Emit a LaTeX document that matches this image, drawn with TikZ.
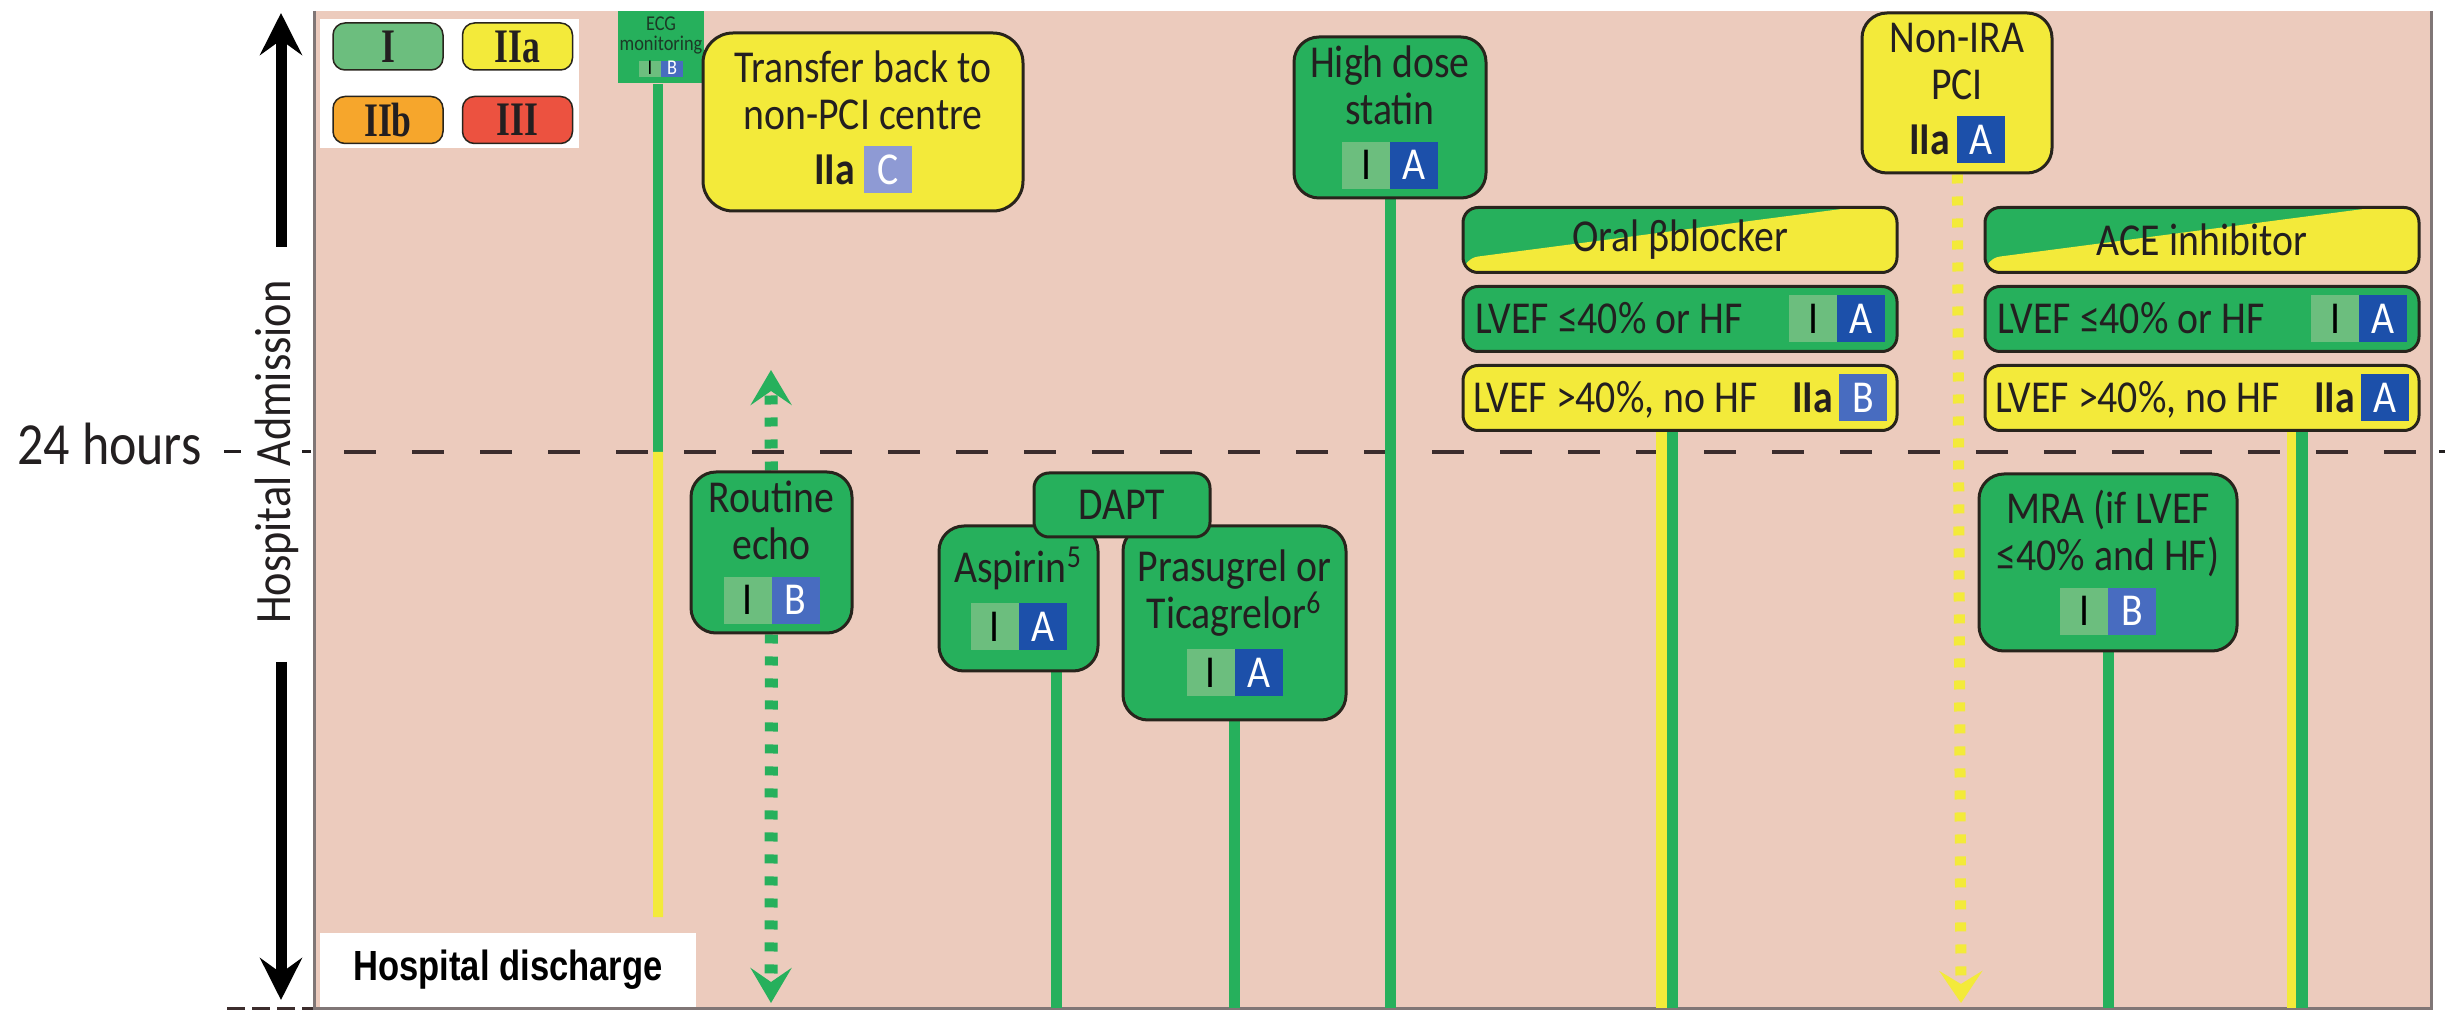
\documentclass[tikz,border=0pt]{standalone}
\usepackage{fontspec}
\setmainfont{Carlito}[FakeStretch=0.87]
\newfontfamily\legendfont{Liberation Serif}[FakeStretch=0.74]
\newfontfamily\dischargefont{Liberation Sans}[FakeStretch=0.82]
\usepackage{tikz}
\usetikzlibrary{arrows.meta,positioning,backgrounds}

\definecolor{pinkbg}{RGB}{236,203,189}
\definecolor{grn}{RGB}{38,176,92}
\definecolor{lgrn}{RGB}{108,190,126}
\definecolor{yel}{RGB}{243,234,58}
\definecolor{evA}{RGB}{28,80,170}
\definecolor{evB}{RGB}{72,108,192}
\definecolor{evC}{RGB}{142,154,212}
\definecolor{orng}{RGB}{246,166,44}
\definecolor{rd}{RGB}{236,82,64}
\definecolor{edge}{RGB}{40,36,28}
\definecolor{ink}{RGB}{35,31,32}
\definecolor{ecgink}{RGB}{28,58,38}
\definecolor{frame}{RGB}{128,118,118}
\definecolor{dashc}{RGB}{60,45,45}

% class / level badges
\newlength{\badgewd}\setlength{\badgewd}{4.8mm}
\newlength{\badgeht}\setlength{\badgeht}{4.7mm}
\newlength{\badgedp}\setlength{\badgedp}{0.9mm}
\newcommand{\lvlbox}[3]{{\setlength{\fboxsep}{0pt}\colorbox{#1}{\makebox[\badgewd]{\rule[-\badgedp]{0pt}{\badgeht}\textcolor{#2}{#3}}}}}
\newcommand{\classI}{\lvlbox{lgrn}{black}{I}}
\newcommand{\levelA}{\lvlbox{evA}{white}{A}}
\newcommand{\levelB}{\lvlbox{evB}{white}{B}}
\newcommand{\levelC}{\lvlbox{evC}{white}{C}}
\newcommand{\smallbadges}{\setlength{\badgewd}{2.2mm}\setlength{\badgeht}{1.4mm}\setlength{\badgedp}{0.25mm}}

\begin{document}
\begin{tikzpicture}[x=0.1mm, y=-0.1mm,
	box/.style={draw=edge, line width=0.3mm, rounded corners=2.5mm, align=center, inner sep=0pt, text=ink, font=\fontsize{13}{13.4}\selectfont},
	gbox/.style={box, fill=grn},
	ybox/.style={box, fill=yel},
	rowbox/.style={box, rounded corners=1.5mm, minimum width=43.4mm, minimum height=6.5mm},
	splitbox/.style={rowbox, fill=grn, path picture={\fill[yel] ([yshift=1.4mm]path picture bounding box.south west) -- ([xshift=-4.4mm]path picture bounding box.north east) -- (path picture bounding box.north east) -- (path picture bounding box.south east) -- (path picture bounding box.south west) -- cycle;}},
	legbox/.style={draw=edge, line width=0.15mm, rounded corners=1.2mm, minimum width=11mm, minimum height=4.7mm, inner sep=0pt, text=ink, font={\fontsize{13.7}{14}\legendfont\bfseries}},
	gline/.style={draw=grn, line width=1.1mm},
	yline/.style={draw=yel, line width=1.1mm},
	gdots/.style={draw=grn, line width=1.3mm, dash pattern=on 0.9mm off 1.3mm, -{Stealth[length=3.5mm, width=4.1mm, inset=1.4mm]}},
	ydots/.style={draw=yel, line width=1.1mm, dash pattern=on 0.9mm off 1.3mm, -{Stealth[length=3.2mm, width=4.3mm, inset=1.3mm]}},
	timearrow/.style={draw=black, line width=1.1mm, -{Stealth[length=4.2mm, width=4.2mm, inset=1.5mm]}},
	hourtick/.style={draw=ink, line width=0.3mm}]
	\useasboundingbox (0,0) rectangle (2445,1010);
	\coordinate (day) at (0,452);
	\coordinate (base) at (0,1008);
	% Panel and 24 h line
	\begin{scope}[on background layer]
		\fill[white] (0,0) rectangle (2445,1010);
		\fill[pinkbg] (314,11) rectangle (2431,1008);
		\draw[frame, line width=0.3mm] (314,11) -- (314,1008) -- (2431,1008) -- (2431,11);
		\draw[dashc, line width=0.35mm, dash pattern=on 3.2mm off 3.6mm] (344,452) -- (2430,452);
	\end{scope}
	% Time axis
	\node[anchor=base east, text=ink, font=\fontsize{17}{17}\selectfont] (hours) at (214,465) {24 hours};
	\draw[hourtick] (224,452) -- (241,452);
	\draw[hourtick] (302,452) -- (311,452);
	\draw[hourtick] (2439,452) -- (2445,452);
	\node[rotate=90, anchor=base, text=ink, font=\fontsize{14.5}{15}\selectfont] (admission) at (290,452) {Hospital Admission};
	\coordinate (upfrom) at (281,247);
	\coordinate (upto) at (281,13);
	\coordinate (downfrom) at (281,662);
	\coordinate (downto) at (281,1000);
	\draw[timearrow] (upfrom) -- (upto);
	\draw[timearrow] (downfrom) -- (downto);
	\draw[dashc, line width=0.6mm, dash pattern=on 1.8mm off 0.7mm] (227,1010) -- (313,1010);
	% Legend
	\node[fill=white, minimum width=25.9mm, minimum height=12.9mm] (legend) at (449.5,83.5) {};
	\node[legbox, fill=lgrn] (legI) at (388,46.5) {I};
	\node[legbox, fill=yel, right=1.8mm of legI] (legIIa) {IIa};
	\node[legbox, fill=orng, below=2.5mm of legI] (legIIb) {IIb};
	\node[legbox, fill=rd, right=1.8mm of legIIb] (legIII) {III};
	% Boxes
	\node[fill=grn, minimum width=8.6mm, minimum height=7.2mm, inner sep=0pt, align=center, text=ecgink, font=\fontsize{6}{5.6}\selectfont] (ecg) at (661,47) {ECG\\monitoring\\[0.5mm]{\smallbadges\classI\levelB}};
	\node[ybox, minimum width=32mm, minimum height=17.8mm, rounded corners=3mm] (transfer) at (863,122) {Transfer back to\\non-PCI centre\\[0.8mm]\textbf{IIa} \levelC};
	\node[gbox, minimum width=16.1mm, minimum height=16.1mm] (routine) at (771.5,552.5) {Routine\\echo\\[0.8mm]\classI\levelB};
	\node[gbox, minimum width=19.2mm, minimum height=16.1mm] (statin) at (1390,117.5) {High dose\\statin\\[0.8mm]\classI\levelA};
	\node[gbox, minimum width=15.9mm, minimum height=14.5mm] (aspirin) at (1018.5,598.5) {Aspirin\textsuperscript{5}\\[1.2mm]\classI\levelA};
	\node[gbox, minimum width=22.3mm, minimum height=19.4mm] (prasugrel) at (1234.5,623) {Prasugrel or\\Ticagrelor\textsuperscript{6}\\[1.2mm]\classI\levelA};
	\node[gbox, rounded corners=1.5mm, minimum width=17.6mm, minimum height=6.4mm] (dapt) at (1122,505) {DAPT};
	\node[ybox, minimum width=19mm, minimum height=16mm] (nonira) at (1957,93) {Non-IRA\\PCI\\[0.8mm]\textbf{IIa}\hspace{0.7mm}\levelA};
	\node[gbox, minimum width=25.8mm, minimum height=17.7mm] (mra) at (2108,562.5) {MRA (if LVEF\\≤40\% and HF)\\[0.8mm]\classI\levelB};
	% Oral beta blocker
	\node[splitbox] (bbhead) at (1680,240) {Oral βblocker};
	\node[rowbox, fill=grn, below=1.1mm of bbhead] (bbrisk) {\makebox[41mm]{LVEF ≤40\% or HF\hfill\classI\levelA}};
	\node[rowbox, fill=yel, below=1.1mm of bbrisk] (bbnorisk) {\makebox[41.4mm]{LVEF >40\%, no HF\hfill\textbf{IIa}\hspace{0.6mm}\levelB}};
	% ACE inhibitor
	\node[splitbox] (acehead) at (2202,240) {ACE inhibitor};
	\node[rowbox, fill=grn, below=1.1mm of acehead] (acerisk) {\makebox[41mm]{LVEF ≤40\% or HF\hfill\classI\levelA}};
	\node[rowbox, fill=yel, below=1.1mm of acerisk] (acenorisk) {\makebox[41.4mm]{LVEF >40\%, no HF\hfill\textbf{IIa}\hspace{0.6mm}\levelA}};
	% Discharge label
	\node[fill=white, minimum width=37.6mm, minimum height=7.4mm, text=black, font={\fontsize{12}{12}\dischargefont\bfseries}] (discharge) at (508,970) {Hospital discharge};
	% Connectors
	\coordinate (ecgend) at (658,917);
	\coordinate (echotop) at (771,370);
	\coordinate (echoend) at (771,1003);
	\coordinate (iraend) at (1961,1003);
	\begin{scope}[on background layer]
		\draw[gline, line width=1mm] ([xshift=-0.3mm]ecg.south) -- ([xshift=-0.3mm]ecg.south |- day);
		\draw[yline, line width=1mm] ([xshift=-0.3mm]ecg.south |- day) -- (ecgend);
		\draw[gdots] (routine) -- (echotop);
		\draw[gdots] (routine) -- (echoend);
		\draw[gline] (statin.south) -- (statin.south |- base);
		\draw[gline] ([xshift=3.75mm]aspirin.south) -- ([xshift=3.75mm]aspirin.south |- base);
		\draw[gline] (prasugrel.south) -- (prasugrel.south |- base);
		\draw[gline] (mra.south) -- (mra.south |- base);
		\draw[yline] ([xshift=-1.85mm]bbnorisk.south) -- ([xshift=-1.85mm]bbnorisk.south |- base);
		\draw[gline] ([xshift=-0.75mm]bbnorisk.south) -- ([xshift=-0.75mm]bbnorisk.south |- base);
		\draw[yline, line width=0.95mm] ([xshift=8.95mm]acenorisk.south) -- ([xshift=8.95mm]acenorisk.south |- base);
		\draw[gline, line width=1.15mm] ([xshift=10mm]acenorisk.south) -- ([xshift=10mm]acenorisk.south |- base);
		\draw[ydots] (nonira) -- (iraend);
	\end{scope}
\end{tikzpicture}
\end{document}
